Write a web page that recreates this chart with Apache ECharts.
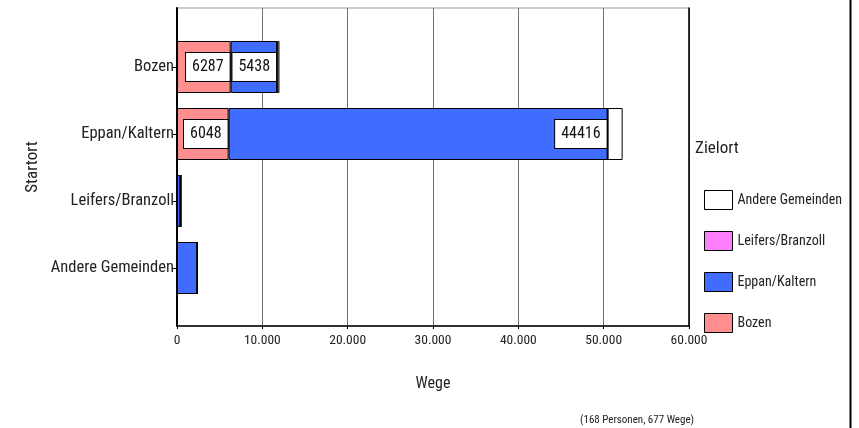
<!DOCTYPE html>
<html><head><meta charset="utf-8">
<script src="https://cdn.jsdelivr.net/npm/echarts@6/dist/echarts.min.js"></script>
<style>html,body{margin:0;padding:0;background:#fff}#c{width:859px;height:428px}</style>
</head><body><div id="c"></div>
<script>
const categories = ['Bozen', 'Eppan/Kaltern', 'Leifers/Branzoll', 'Andere Gemeinden'];
const bozen = [6287, 6048, 0, 0];
const eppan = [5438, 44416, 380, 2380];
const leifers = [30, 0, 90, 0];
const andere = [250, 1760, 0, 0];
const xTicks = ['0', '10.000', '20.000', '30.000', '40.000', '50.000', '60.000'];
const seriesNames = ['Bozen', 'Eppan/Kaltern', 'Leifers/Branzoll', 'Andere Gemeinden'];
const legendOrder = ['Andere Gemeinden', 'Leifers/Branzoll', 'Eppan/Kaltern', 'Bozen'];
const colors = ['#ff8f8f', '#406cff', '#ff80ff', '#ffffff'];
const F = '"Liberation Sans Narrow", "Arial Narrow", "Roboto Condensed", "Liberation Sans", sans-serif';

const chart = echarts.init(document.getElementById('c'), null, {renderer: 'canvas'});
const allData = [bozen, eppan, leifers, andere];
const series = allData.map((arr, i) => ({
  name: seriesNames[i], type: 'bar', stack: 'a', xAxisIndex: 1, yAxisIndex: 1,
  barWidth: 52,
  itemStyle: {color: colors[i], borderColor: '#000', borderWidth: 1},
  label: {
    show: true, position: 'insideRight', distance: 1,
    backgroundColor: '#fff', borderColor: '#000', borderWidth: 1,
    padding: [6, 6, 6, 6], fontFamily: F, fontSize: 16, lineHeight: 16, color: '#111'
  },
  data: arr.map(v => ({value: v, label: {show: v > 3000}})),
  emphasis: {disabled: true}
}));

chart.setOption({
  animation: false,
  textStyle: {fontFamily: F},
  grid: [
    {left: 177, right: 170, top: 8, bottom: 102, show: true, borderColor: '#999', borderWidth: 1},
    {left: 177, right: 170, top: 33.5, height: 268}
  ],
  xAxis: [
    {gridIndex: 0, type: 'value', min: 0, max: 60000, interval: 10000,
     axisLine: {show: true, lineStyle: {color: '#000', width: 1.5}},
     axisTick: {show: true, length: 3, lineStyle: {color: '#000'}},
     splitLine: {show: true, lineStyle: {color: '#707070', width: 1}},
     axisLabel: {color: '#222', fontSize: 13.5, fontFamily: F, margin: 8,
       formatter: (v) => xTicks[Math.round(v / 10000)]},
     name: 'Wege', nameLocation: 'middle', nameGap: 50,
     nameTextStyle: {fontSize: 16, color: '#222', fontFamily: F}},
    {gridIndex: 1, type: 'value', min: 0, max: 60000, show: false}
  ],
  yAxis: [
    {gridIndex: 0, type: 'value', min: 0, max: 1, axisLabel: {show: false}, splitLine: {show: false},
     axisTick: {show: false}, axisLine: {show: true, lineStyle: {color: '#000', width: 2}},
     name: 'Startort', nameLocation: 'middle', nameGap: 136, nameRotate: 90,
     nameTextStyle: {fontSize: 17, color: '#222', fontFamily: F}},
    {gridIndex: 1, type: 'category', data: categories, inverse: true,
     axisLine: {show: false}, axisTick: {show: true, length: 4, alignWithLabel: true, lineStyle: {color: '#000'}},
     axisLabel: {fontSize: 16.5, color: '#222', fontFamily: F, margin: 3}, splitLine: {show: false}},
    {gridIndex: 0, type: 'value', position: 'right', min: 0, max: 1, axisLabel: {show: false},
     splitLine: {show: false}, axisTick: {show: false},
     axisLine: {show: true, lineStyle: {color: '#000', width: 1.5}}}
  ],
  legend: {
    data: legendOrder, orient: 'vertical', left: 699, top: 185, icon: 'rect',
    itemWidth: 28, itemHeight: 19, itemGap: 21,
    textStyle: {fontSize: 14, color: '#222', fontFamily: F},
    itemStyle: {borderColor: '#000', borderWidth: 1}, selectedMode: false
  },
  graphic: [
    {type: 'text', left: 695, top: 140, style: {text: 'Zielort', fontSize: 17, fill: '#222', fontFamily: F}},
    {type: 'text', left: 580, top: 415, style: {text: '(168 Personen, 677 Wege)', fontSize: 11, fill: '#222', fontFamily: F}},
    {type: 'line', shape: {x1: 850.5, y1: 0, x2: 850.5, y2: 428}, style: {stroke: '#000', lineWidth: 2}}
  ],
  series: series
});
</script></body></html>
